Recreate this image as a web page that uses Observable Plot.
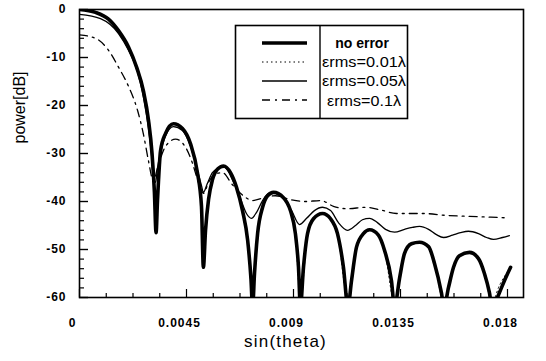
<!DOCTYPE html>
<html>
<head>
<meta charset="utf-8">
<script src="https://cdn.jsdelivr.net/npm/d3@7"></script>
<script src="https://cdn.jsdelivr.net/npm/@observablehq/plot@0.6"></script>
<style>
  html, body { margin: 0; padding: 0; background: #fff; }
  #wrap { position: relative; width: 546px; height: 361px; overflow: hidden; }
  #legend { position: absolute; left: 0; top: 0; pointer-events: none; }
</style>
</head>
<body>
<div id="wrap"></div>
<script>
// ---------- data ----------
const seriesNames = ["no error", "εrms=0.01λ", "εrms=0.05λ", "εrms=0.1λ"];

const noErrorSin = [0, 0.000673, 0.00122, 0.00164, 0.00206, 0.00240, 0.00269, 0.00290, 0.00305, 0.00315, 0.00322, 0.00328, 0.00341, 0.00362, 0.00395, 0.00433, 0.00467, 0.00496, 0.00513, 0.00521, 0.00530, 0.00543, 0.00559, 0.00580, 0.00606, 0.00635, 0.00660, 0.00686, 0.00707, 0.00721, 0.00728, 0.00736, 0.00749, 0.00770, 0.00791, 0.00816, 0.00858, 0.00887, 0.00908, 0.00921, 0.00929, 0.00942, 0.00959, 0.00984, 0.01022, 0.01056, 0.01085, 0.01110, 0.01129, 0.01144, 0.01165, 0.01194, 0.01220, 0.01257, 0.01283, 0.01312, 0.01325, 0.01346, 0.01367, 0.01396, 0.01430, 0.01468, 0.01493, 0.01522, 0.01533, 0.01552, 0.01573, 0.01598, 0.01640, 0.01678, 0.01703, 0.01724, 0.01735, 0.01766, 0.01787, 0.01813];
const noErrorDb = [0, -0.6, -2, -4.4, -7.8, -12, -17, -23, -30, -38, -46.5, -39.8, -29.4, -25.8, -23.8, -24.8, -28, -34, -41, -53.7, -46, -39.5, -35.5, -33.3, -32.6, -34, -37, -42, -48, -56, -62, -55, -46.7, -41.2, -38.8, -38.1, -39.2, -41.9, -46.7, -53.7, -62, -53.7, -46.7, -43.6, -42.5, -43.6, -46.7, -53.7, -62, -56.5, -49.5, -46.7, -45.9, -47, -50.2, -56.5, -62, -56, -50.8, -48.8, -48.5, -49.4, -52.9, -59, -62, -57.9, -53.7, -51.3, -50.6, -51.9, -55, -59, -62, -59, -56.5, -53.7];

const e001Sin = [0, 0.000673, 0.00122, 0.00164, 0.00206, 0.00240, 0.00269, 0.00290, 0.00305, 0.00315, 0.00322, 0.00328, 0.00341, 0.00362, 0.00395, 0.00433, 0.00467, 0.00496, 0.00513, 0.00521, 0.00530, 0.00543, 0.00559, 0.00580, 0.00606, 0.00635, 0.00660, 0.00686, 0.00707, 0.00728, 0.00749, 0.00770, 0.00791, 0.00816, 0.00858, 0.00887, 0.00908, 0.00929, 0.00959, 0.00984, 0.01022, 0.01056, 0.01085, 0.01129, 0.01165, 0.01194, 0.01220, 0.01257, 0.01283, 0.01325, 0.01367, 0.01396, 0.01430, 0.01468, 0.01493, 0.01533, 0.01573, 0.01598, 0.01640, 0.01678, 0.01703, 0.01735, 0.01766, 0.01813];
const e001Db = [-0.1, -0.7, -2.1, -4.5, -7.9, -12.1, -17.2, -23.2, -30.3, -38.2, -45.5, -39.6, -29.5, -25.9, -23.9, -24.9, -28.1, -34.1, -41, -51.5, -46, -39.6, -35.6, -33.4, -32.7, -34.1, -37.1, -42.2, -48.3, -60, -46.8, -41.3, -38.9, -38.2, -39.3, -42, -46.8, -60.5, -46.8, -43.7, -42.6, -43.7, -46.8, -60.5, -49.5, -46.8, -46, -47.1, -50.3, -61, -50.9, -48.9, -48.6, -49.5, -53, -61, -53.8, -51.4, -50.7, -52, -55.1, -61, -57.5, -53.8];

const e005Sin = [0, 0.000883, 0.00164, 0.00206, 0.00244, 0.00269, 0.00290, 0.00303, 0.00311, 0.00320, 0.00328, 0.00341, 0.00362, 0.00395, 0.00433, 0.00467, 0.00496, 0.00513, 0.00521, 0.00538, 0.00559, 0.00580, 0.00610, 0.00648, 0.00677, 0.00702, 0.00723, 0.00744, 0.00770, 0.00795, 0.00820, 0.00858, 0.00892, 0.00925, 0.00955, 0.00988, 0.01022, 0.01056, 0.01089, 0.01127, 0.01161, 0.01190, 0.01220, 0.01253, 0.01287, 0.01325, 0.01367, 0.01400, 0.01430, 0.01468, 0.01501, 0.01531, 0.01569, 0.01602, 0.01636, 0.01678, 0.01712, 0.01741, 0.01779, 0.01808];
const e005Db = [-1, -1.9, -5, -8.5, -13, -18.3, -24.8, -30.4, -35.2, -36, -33, -29.8, -26.3, -24.4, -25.2, -28.5, -33.5, -36.7, -38.1, -36.2, -34, -33.2, -32.9, -36, -39.4, -42.5, -43.5, -42.3, -39.8, -38.3, -38.1, -39.4, -41.9, -44.8, -43.5, -41.9, -41.2, -41.9, -44.4, -46, -45, -43.8, -43.5, -44.4, -45.8, -46.4, -45.8, -45.4, -45.2, -45.8, -46.9, -47.5, -47, -46.5, -46.2, -46.7, -47.5, -47.9, -47.5, -47.1];

const e01Sin = [0, 0.000673, 0.00122, 0.00164, 0.00206, 0.00244, 0.00269, 0.00290, 0.00311, 0.00328, 0.00362, 0.00404, 0.00446, 0.00475, 0.00500, 0.00521, 0.00543, 0.00572, 0.00601, 0.00643, 0.00694, 0.00728, 0.00770, 0.00824, 0.00887, 0.00950, 0.01014, 0.01068, 0.01123, 0.01207, 0.01262, 0.01333, 0.01447, 0.01543, 0.01640, 0.01796];
const e01Db = [-5.3, -6, -8.5, -12, -16, -21, -26, -31.5, -35.8, -33, -28.5, -27, -28.7, -32, -36, -38.3, -36, -34.2, -34, -36.5, -39, -39.8, -39.3, -38.8, -39.6, -40, -39.8, -41, -41.5, -41.2, -41.7, -42.5, -42.5, -42.9, -43.1, -43.4];

const xTickValues = [0, 0.0045, 0.009, 0.0135, 0.018];
const xTickLabels = ["0", "0.0045", "0.009", "0.0135", "0.018"];
const xMinorTicks = [0.001125, 0.00225, 0.003375, 0.005625, 0.00675, 0.007875, 0.010125, 0.01125, 0.012375, 0.014625, 0.01575, 0.016875];
const yTickValues = [0, -10, -20, -30, -40, -50, -60];
const yTickLabels = ["0", "-10", "-20", "-30", "-40", "-50", "-60"];
const yMinorTicks = [-2, -4, -6, -8, -12, -14, -16, -18, -22, -24, -26, -28, -32, -34, -36, -38, -42, -44, -46, -48, -52, -54, -56, -58];

// ---------- layout ----------
const W = 546, H = 361;
const mL = 79, mR = 23, mT = 9, mB = 64;
const innerW = W - mL - mR, innerH = H - mT - mB;
const FONT = "'Liberation Sans', Arial, Helvetica, sans-serif";

const toRows = (xs, ys) => xs.map((x, i) => ({x, y: ys[i]}));
const noError = toRows(noErrorSin, noErrorDb);
const e001 = toRows(e001Sin, e001Db);
const e005 = toRows(e005Sin, e005Db);
const e01 = toRows(e01Sin, e01Db);

const chart = Plot.plot({
  width: W, height: H,
  marginLeft: mL, marginRight: mR, marginTop: mT, marginBottom: mB,
  style: {fontFamily: FONT, background: "#fff", color: "#000"},
  x: {domain: [0, 0.018673]},
  y: {domain: [-60, 0]},
  marks: [
    Plot.line(e001, {x: "x", y: "y", stroke: "#000", strokeWidth: 1, strokeDasharray: "1.5,3", curve: "monotone-x", clip: true}),
    Plot.line(e005, {x: "x", y: "y", stroke: "#000", strokeWidth: 1.3, curve: "monotone-x", clip: true}),
    Plot.line(e01, {x: "x", y: "y", stroke: "#000", strokeWidth: 1.3, strokeDasharray: "8,5,2,5", curve: "monotone-x", clip: true}),
    Plot.line(noError, {x: "x", y: "y", stroke: "#000", strokeWidth: 3.6, curve: "monotone-x", clip: true}),
    Plot.frame({stroke: "#000", strokeWidth: 1.6}),
    Plot.tickX(xMinorTicks, {x: d => d, stroke: "#000", strokeWidth: 1.2, insetTop: innerH - 4}),
    Plot.tickX(xTickValues, {x: d => d, stroke: "#000", strokeWidth: 1.2, insetTop: innerH - 8}),
    Plot.tickY(yMinorTicks, {y: d => d, stroke: "#000", strokeWidth: 1.2, insetRight: innerW - 5}),
    Plot.tickY(yTickValues, {y: d => d, stroke: "#000", strokeWidth: 1.4, insetRight: innerW - 9}),
    Plot.axisX({ticks: xTickValues, tickSize: 0, tickPadding: 21, dx: -7,
      tickFormat: (d, i) => xTickLabels[xTickValues.indexOf(d)],
      fontSize: 12, fontWeight: "bold", label: null}),
    Plot.axisY({ticks: yTickValues, tickSize: 0, tickPadding: 13,
      tickFormat: d => yTickLabels[yTickValues.indexOf(d)],
      fontSize: 12, fontWeight: "bold", label: null}),
    Plot.text(["sin(theta)"], {frameAnchor: "bottom", dx: -16, dy: 49, text: d => d, fontSize: 17, fill: "#000"}),
    Plot.text(["power[dB]"], {frameAnchor: "left", rotate: -90, dx: -60, dy: -10, text: d => d, fontSize: 16, fill: "#000"})
  ]
});
d3.select(chart).selectAll("g[aria-label='x-axis tick label'] text, g[aria-label='y-axis tick label'] text")
  .style("letter-spacing", "1px");
d3.select(chart).selectAll("text").filter(function() { return this.textContent === "sin(theta)"; })
  .style("letter-spacing", "1.2px");
document.getElementById("wrap").appendChild(chart);

// ---------- legend overlay ----------
const leg = d3.select("#wrap").append("svg").attr("id", "legend")
  .attr("width", W).attr("height", H);
leg.append("rect").attr("x", 235.5).attr("y", 25.5).attr("width", 172).attr("height", 93)
  .attr("fill", "#fff").attr("stroke", "#000").attr("stroke-width", 1.6);
leg.append("line").attr("x1", 320).attr("x2", 320).attr("y1", 25.5).attr("y2", 118.5)
  .attr("stroke", "#000").attr("stroke-width", 1.4);
const legStyles = [
  {w: 3.6, dash: null},
  {w: 1, dash: "1.5,3"},
  {w: 1.6, dash: null},
  {w: 1.3, dash: "8,5,2,5"}
];
const rowY = [43, 62, 81, 100];
const textX = [362, 322, 322, 327];
seriesNames.forEach((name, i) => {
  leg.append("line").attr("x1", 262).attr("x2", 307).attr("y1", rowY[i]).attr("y2", rowY[i])
    .attr("stroke", "#000").attr("stroke-width", legStyles[i].w)
    .attr("stroke-dasharray", legStyles[i].dash);
  const t = leg.append("text").attr("x", textX[i]).attr("y", rowY[i] + (i === 3 ? 1 : 0))
    .attr("dy", "0.35em").attr("font-family", FONT).text(name);
  if (i === 0) {
    t.attr("text-anchor", "middle").attr("font-size", 14).attr("font-weight", "bold");
  } else {
    t.attr("font-size", 15).attr("textLength", i === 3 ? 74 : 84).attr("lengthAdjust", "spacingAndGlyphs");
  }
});
</script>
</body>
</html>
